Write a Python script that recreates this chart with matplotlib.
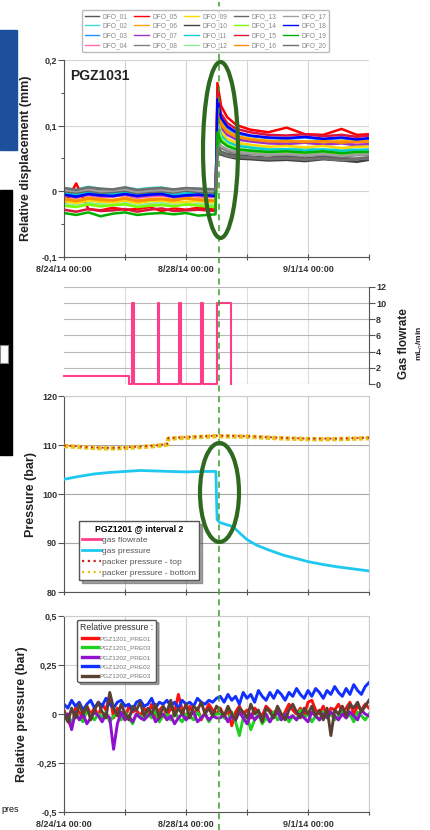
import numpy as np
import matplotlib
matplotlib.use('Agg')
import matplotlib.pyplot as plt
from matplotlib.patches import Ellipse, Rectangle
from matplotlib.lines import Line2D

plt.rcParams['font.family'] = ['Liberation Sans', 'DejaVu Sans']

# ---------------- data ----------------
# time in days since 8/24/14 00:00
XTICKS = [0, 2, 4, 6, 8, 10]
XTICK_LABELS = ['8/24/14 00:00', '', '8/28/14 00:00', '', '9/1/14 00:00', '']

# displacement (units of 0.001 mm)
T_DISP = [0, 0.4, 0.8, 1.2, 1.6, 2.0, 2.4, 2.8, 3.2, 3.6, 4.0, 4.4, 4.97,
          5.03, 5.15, 5.35, 5.65, 6.1, 6.7, 7.3, 7.9, 8.5, 9.1, 9.6, 10.0]
DFO_01 = [3, 0, 4, 2, -1, 3, 1, 2, 5, 1, 3, 2, 1, 70, 60, 57, 55, 53, 51, 54, 50, 53, 51, 49, 52]
DFO_02 = [5, 3, 7, 4, 2, 6, 3, 5, 6, 2, 5, 4, 3, 115, 90, 80, 72, 68, 65, 64, 66, 62, 65, 63, 64]
DFO_03 = [-4, -7, -3, -5, -6, -3, -6, -4, -2, -6, -5, -4, -6, 135, 108, 96, 88, 84, 81, 80, 82, 79, 81, 78, 80]
DFO_04 = [-8, -10, -6, -9, -7, -6, -10, -8, -7, -9, -6, -8, -9, 125, 101, 89, 82, 78, 75, 74, 76, 73, 75, 72, 74]
DFO_05 = [-22, 12, -27, -29, -25, -28, -27, -24, -30, -26, -28, -25, -28, 165, 130, 113, 101, 94, 90, 97, 87, 86, 95, 86, 87]
DFO_06 = [-11, -14, -10, -12, -13, -10, -14, -12, -11, -13, -10, -12, -14, 130, 104, 92, 84, 80, 77, 75, 76, 74, 77, 75, 76]
DFO_07 = [-6, -9, -5, -7, -8, -5, -8, -6, -5, -9, -7, -6, -8, 120, 97, 86, 79, 76, 73, 72, 74, 71, 73, 70, 72]
DFO_08 = [1, -1, 2, -1, 0, 2, -2, 0, 1, -1, 2, 0, -1, 75, 66, 61, 58, 57, 55, 56, 54, 56, 53, 55, 55]
DFO_09 = [-15, -18, -14, -16, -17, -14, -18, -15, -14, -17, -16, -15, -17, 110, 90, 80, 74, 71, 68, 69, 67, 69, 66, 68, 68]
DFO_10 = [4, 1, 5, 3, 2, 5, 1, 3, 4, 2, 4, 3, 2, 62, 56, 53, 50, 49, 47, 48, 46, 49, 47, 45, 48]
DFO_11 = [-2, -5, -1, -3, -4, -1, -4, -2, -1, -5, -3, -2, -4, 105, 85, 75, 69, 66, 63, 64, 62, 64, 61, 63, 63]
DFO_12 = [-19, -22, -18, -20, -21, -18, -22, -19, -18, -21, -20, -19, -21, 100, 81, 72, 66, 63, 60, 61, 59, 61, 58, 60, 60]
DFO_13 = [0, -2, 1, -2, -1, 1, -3, -1, 0, -2, 1, -1, -2, 68, 60, 56, 53, 52, 50, 51, 49, 51, 48, 50, 50]
DFO_14 = [-22, -24, -20, -23, -21, -20, -24, -22, -21, -23, -20, -22, -24, 95, 78, 70, 64, 61, 58, 59, 57, 59, 56, 58, 58]
DFO_15 = [-28, -31, -27, -30, -29, -27, -31, -28, -26, -30, -29, -28, -30, 150, 118, 104, 95, 90, 86, 85, 87, 84, 86, 83, 85]
DFO_16 = [-12, -15, -11, -13, -14, -11, -15, -13, -12, -14, -11, -13, -15, 128, 102, 90, 83, 79, 76, 77, 75, 77, 74, 76, 76]
DFO_17 = [2, 0, 3, 0, 1, 3, -1, 1, 2, 0, 3, 1, 0, 80, 69, 64, 60, 58, 56, 57, 55, 57, 54, 56, 57]
DFO_18 = [-5, -8, -4, -6, -7, -4, -7, -5, -4, -8, -6, -5, -7, 140, 112, 99, 90, 85, 82, 81, 83, 80, 82, 79, 81]
DFO_19 = [-33, -36, -32, -38, -34, -32, -36, -34, -33, -35, -33, -37, -35, 90, 76, 69, 64, 62, 60, 61, 59, 61, 58, 60, 60]
DFO_20 = [5, 2, 6, 4, 3, 6, 2, 4, 5, 3, 5, 4, 3, 65, 58, 54, 52, 51, 49, 50, 48, 50, 47, 49, 50]
DFO_SERIES = [DFO_01, DFO_02, DFO_03, DFO_04, DFO_05, DFO_06, DFO_07, DFO_08, DFO_09, DFO_10,
              DFO_11, DFO_12, DFO_13, DFO_14, DFO_15, DFO_16, DFO_17, DFO_18, DFO_19, DFO_20]
DFO_NAMES = ['DFO_%02d' % i for i in range(1, 21)]
DFO_COLORS = ['#555555', '#40e0d0', '#1e90ff', '#ff69b4', '#ff0000', '#ffa500', '#9932cc',
              '#808080', '#ffd700', '#404040', '#00ced1', '#90ee90', '#666666', '#7cfc00',
              '#dc143c', '#ff8c00', '#a0a0a0', '#0000ff', '#00b000', '#707070']

# gas flowrate (mLn/min), step series
T_FLOW = [0, 2.12, 2.22, 2.28, 3.07, 3.13, 3.78, 3.84, 4.49, 4.55, 5.03, 5.46, 5.47]
FLOW = [1, 0, 10, 0, 10, 0, 10, 0, 10, 0, 10, 0, 0]

# pressures (bar)
T_GP = [0, 0.5, 1.0, 1.5, 2.0, 2.5, 3.0, 3.5, 4.0, 4.5, 4.98, 5.0, 5.02, 5.1, 5.3, 5.46,
        5.6, 5.8, 6.0, 6.3, 6.7, 7.2, 7.7, 8.0, 8.5, 9.0, 9.5, 10.0]
GAS_P = [103.0, 103.6, 104.1, 104.4, 104.6, 104.8, 104.7, 104.6, 104.5, 104.6, 104.6, 99.0,
         94.8, 94.2, 93.8, 93.5, 93.0, 91.8, 90.7, 89.6, 88.6, 87.5, 86.7, 86.2, 85.6, 85.1,
         84.7, 84.3]
T_PACK = [0, 0.5, 1.0, 1.5, 2.0, 2.5, 3.0, 3.38, 3.42, 4.0, 5.0, 6.0, 7.0, 8.0, 9.0, 10.0]
PACK_BOTTOM = [109.8, 109.6, 109.4, 109.3, 109.4, 109.6, 109.8, 110.1, 111.3, 111.5, 111.8,
               111.7, 111.4, 111.2, 111.2, 111.4]
PACK_TOP = [109.9, 109.7, 109.5, 109.4, 109.5, 109.7, 109.9, 110.2, 111.4, 111.6, 111.9,
            111.8, 111.5, 111.3, 111.3, 111.5]

# relative pressure (units of 0.01 bar), every 3 h
T_REL = [i * 0.125 for i in range(81)]
PGZ1201_PRE01 = [2, -3, -7, 3, 1, -2, 4, 0, 3, -1, 5, 2, 10, -2, 3, 0, -3, 4, 1, 2,
                 -1, 3, 0, 5, -2, 2, 4, -1, 3, 1, 10, 2, -2, 4, 0, 3, -3, 1, 5, 2, 0,
                 3, -1, 2, -6, 1, 4, 0, 2, -2, 3, 1, -1, 4, 2, 0, 3, -2, 1, 5, 2,
                 0, 3, -1, 6, 7, 2, 0, 4, -1, 3, 2, 5, 1, 3, 6, 0, 4, 2, 5, 3]
PGZ1201_PRE03 = [-3, 0, -5, 1, -2, -4, 2, -1, -3, 0, -2, 1, -4, -1, 0, -3, 1, -2, -5, 0,
                 -1, -3, 0, -2, 2, -4, -1, 0, -3, 1, -2, -4, 0, -1, -3, 1, -2, 0, -4, -1, 0,
                 0, -2, -3, 1, -4, -11, -2, -1, -8, -3, 0, -5, -2, -4, 1, -3, -2, 0, -4, -1,
                 -3, 2, -2, 0, -4, -1, -3, 1, -2, 0, -3, -1, 2, -2, 0, -4, 1, -1, -3, 0]
PGZ1202_PRE01 = [-2, 0, -8, 1, -3, 0, -5, -2, 1, -1, -4, 0, -2, -18, -5, 1, -3, -1, -4, 0,
                 -2, -3, -1, 1, -4, -2, 0, -3, -1, -5, -2, 0, -3, -1, 1, -4, -2, 0, -3, -1, -2,
                 -2, 0, -4, -1, -3, 1, -2, -5, 0, -3, -1, -2, 0, -4, -1, 1, -3, 0, -2, -1,
                 -3, 0, -2, -4, 1, -1, -3, 0, -2, 1, -1, -3, 0, -2, 1, -1, -3, 2, 0, -1]
PGZ1202_PRE02 = [5, 3, 7, 4, 6, 2, 5, 7, 3, 6, 4, 8, 5, 3, 6, 7, 4, 5, 2, 6,
                 7, 4, 5, 8, 3, 6, 5, 7, 4, 6, 3, 7, 5, 6, 4, 8, 6, 5, 7, 6, 8,
                 9, 6, 10, 7, 9, 5, 11, 8, 10, 6, 12, 9, 7, 11, 8, 12, 10, 7, 11, 9,
                 13, 10, 8, 12, 9, 13, 11, 8, 12, 10, 14, 11, 9, 13, 10, 15, 12, 10, 14, 16]
PGZ1202_PRE03 = [1, -4, 3, -2, 5, 0, 4, -3, 2, 6, 1, -2, 11, 3, -1, 5, 0, -3, 4, 2,
                 6, -1, 3, 0, 5, -2, 4, 1, 7, -1, 3, 0, 5, -2, 4, 2, 6, 0, 3, -1, 4,
                 2, -1, 4, 0, -3, 3, 1, -2, 5, 0, 2, -4, 3, 1, -2, 4, 0, -3, 2, 5,
                 1, -2, 3, 0, 4, -1, 2, -3, 3, -11, 2, 0, 4, -1, 5, 3, 6, 1, 4, 7]
REL_SERIES = [PGZ1201_PRE01, PGZ1201_PRE03, PGZ1202_PRE01, PGZ1202_PRE02, PGZ1202_PRE03]
REL_NAMES = ['PGZ1201_PRE01', 'PGZ1201_PRE03', 'PGZ1202_PRE01', 'PGZ1202_PRE02', 'PGZ1202_PRE03']
REL_COLORS = ['#ff1010', '#20d020', '#9010d0', '#1030ff', '#5a4032']

EVENT_DAY = 5.07

# ---------------- figure ----------------
W, H = 431, 830
fig = plt.figure(figsize=(W / 100, H / 100), dpi=100)


def fx(px):
    return px / W


def fy(py):
    return 1 - py / H


def add_ax(top, bottom, left=64, right=369):
    return fig.add_axes([fx(left), fy(bottom), fx(right) - fx(left), fy(top) - fy(bottom)])


TICK_COLOR = '#333333'
SPINE = '#555555'


def style_ticks(ax):
    for lab in ax.get_xticklabels() + ax.get_yticklabels():
        lab.set_fontweight('bold')
        lab.set_color(TICK_COLOR)


ax1 = add_ax(60, 257)
ax2 = add_ax(287, 384)
ax3 = add_ax(396, 592)
ax4 = add_ax(616, 812)

# ---- panel 1: displacement ----
for vals, name, col in zip(DFO_SERIES, DFO_NAMES, DFO_COLORS):
    ax1.plot(T_DISP, np.array(vals) * 0.001, color=col, lw=1.8, label=name)
ax1.set_xlim(0, 10)
ax1.set_ylim(-0.1, 0.2)
ax1.set_yticks([-0.1, 0, 0.1, 0.2])
ax1.set_yticklabels(['-0,1', '0', '0,1', '0,2'])
ax1.set_yticks([-0.05, 0.05, 0.15], minor=True)
ax1.set_xticks(XTICKS)
ax1.set_xticklabels(XTICK_LABELS)
ax1.grid(True, color='#d4d4d4', lw=0.8)
ax1.set_axisbelow(True)
for s in ['top', 'right']:
    ax1.spines[s].set_visible(False)
for s in ['left', 'bottom']:
    ax1.spines[s].set_color(SPINE)
ax1.tick_params(axis='y', direction='out', length=4, width=0.8, labelsize=6.5, pad=1, colors=SPINE, labelcolor=TICK_COLOR)
ax1.tick_params(axis='y', which='minor', direction='out', length=2.5, width=0.8, colors=SPINE)
ax1.tick_params(axis='x', direction='inout', length=5, width=0.8, labelsize=6.5, pad=3, colors=SPINE, labelcolor=TICK_COLOR)
ax1.set_ylabel('Relative displacement (mm)', fontsize=9, fontweight='bold', color='#222222')
ax1.yaxis.set_label_coords(-0.104, 0.5)
style_ticks(ax1)
ax1.text(0.02, 0.92, 'PGZ1031', transform=ax1.transAxes, fontsize=10, fontweight='bold',
         color='#222222', ha='left', va='center')

leg1 = fig.legend(*ax1.get_legend_handles_labels(), ncol=5, loc='upper center',
                  bbox_to_anchor=(fx(205.5), fy(7)), fontsize=4.8, frameon=True,
                  handlelength=2.2, columnspacing=1.0, labelspacing=0.4, borderpad=0.4,
                  handletextpad=0.5, fancybox=True, shadow=False, edgecolor='#aaaaaa')
for t in leg1.get_texts():
    t.set_color('#888888')
for line in leg1.get_lines():
    line.set_linewidth(1.0)

# ---- panel 2: gas flowrate ----
ax2.plot(T_FLOW, FLOW, drawstyle='steps-post', color='#ff3d8b', lw=1.5, clip_on=False, zorder=3)
ax2.set_xlim(0, 10)
ax2.set_ylim(0, 12)
ax2.yaxis.tick_right()
ax2.set_yticks([0, 2, 4, 6, 8, 10, 12])
ax2.set_xticks([2, 4, 6, 8])
ax2.tick_params(axis='x', length=0, labelbottom=False)
ax2.tick_params(axis='y', direction='out', length=4, width=0.8, labelsize=6.5, pad=1, colors=SPINE, labelcolor=TICK_COLOR)
ax2.grid(True, axis='y', color='#b8b8b8', lw=0.8)
ax2.grid(True, axis='x', color='#dddddd', lw=0.8)
for s in ['top', 'left', 'bottom']:
    ax2.spines[s].set_visible(False)
ax2.spines['right'].set_color(SPINE)
style_ticks(ax2)
ax2.text(1.115, 0.42, 'Gas flowrate', transform=ax2.transAxes, rotation=90, fontsize=8.5,
         fontweight='bold', color='#222222', ha='center', va='center')
ax2.text(1.165, 0.42, 'mL$_n$/min', transform=ax2.transAxes, rotation=90, fontsize=6,
         fontweight='bold', color='#222222', ha='center', va='center')

# ---- panel 3: pressure ----
ax3.plot(T_GP, GAS_P, color='#1ec8f0', lw=2, label='gas pressure', zorder=3)
ax3.plot(T_PACK, PACK_BOTTOM, color='#e6c21a', lw=3.2, ls=(0, (1.0, 0.5)),
         label='packer pressure - bottom', zorder=3)
ax3.plot(T_PACK, PACK_TOP, color='#d02020', lw=1.3, ls=(0, (1.0, 2.0)),
         label='packer pressure - top', zorder=4)
ax3.set_xlim(0, 10)
ax3.set_ylim(80, 120)
ax3.set_yticks([80, 90, 100, 110, 120])
ax3.set_xticks(XTICKS)
ax3.tick_params(axis='x', direction='inout', length=5, width=0.8, labelbottom=False, colors=SPINE)
ax3.tick_params(axis='y', direction='out', length=4, width=0.8, labelsize=6.5, pad=1, colors=SPINE, labelcolor=TICK_COLOR)
ax3.grid(True, axis='y', color='#a8a8a8', lw=0.8)
ax3.grid(True, axis='x', color='#d0d0d0', lw=0.8)
ax3.set_axisbelow(True)
for s in ['left', 'bottom']:
    ax3.spines[s].set_color(SPINE)
for s in ['top', 'right']:
    ax3.spines[s].set_color('#cccccc')
ax3.set_ylabel('Pressure (bar)', fontsize=9, fontweight='bold', color='#222222')
ax3.yaxis.set_label_coords(-0.088, 0.5)
style_ticks(ax3)
leg_handles = [Line2D([], [], color='#ff3d8b', lw=2),
               Line2D([], [], color='#1ec8f0', lw=2),
               Line2D([], [], color='#d02020', lw=1.6, ls=(0, (1.0, 1.6))),
               Line2D([], [], color='#e6c21a', lw=1.6, ls=(0, (1.0, 1.6)))]
leg3 = ax3.legend(leg_handles,
                  ['gas flowrate', 'gas pressure', 'packer pressure - top', 'packer pressure - bottom'],
                  title='PGZ1201 @ interval 2', loc='lower left', bbox_to_anchor=(0.035, 0.04),
                  fontsize=6, title_fontsize=6.2, frameon=True, fancybox=False, shadow=True,
                  edgecolor='#555555', handlelength=2.2, handletextpad=0.2, labelspacing=0.36,
                  borderpad=0.4)
leg3.get_title().set_fontweight('bold')
for t in leg3.get_texts():
    t.set_color('#555555')

# ---- panel 4: relative pressure ----
for vals, name, col in zip(REL_SERIES, REL_NAMES, REL_COLORS):
    ax4.plot(T_REL, np.array(vals) * 0.01, color=col, lw=2.1, label=name)
ax4.set_xlim(0, 10)
ax4.set_ylim(-0.5, 0.5)
ax4.set_yticks([-0.5, -0.25, 0, 0.25, 0.5])
ax4.set_yticklabels(['-0,5', '-0,25', '0', '0,25', '0,5'])
ax4.set_xticks(XTICKS)
ax4.set_xticklabels(XTICK_LABELS)
ax4.tick_params(axis='x', direction='inout', length=5, width=0.8, labelsize=6.5, pad=3, colors=SPINE, labelcolor=TICK_COLOR)
ax4.tick_params(axis='y', direction='out', length=4, width=0.8, labelsize=6.5, pad=1, colors=SPINE, labelcolor=TICK_COLOR)
ax4.grid(True, color='#d0d0d0', lw=0.8)
ax4.set_axisbelow(True)
for s in ['left', 'bottom']:
    ax4.spines[s].set_color(SPINE)
for s in ['top', 'right']:
    ax4.spines[s].set_color('#cccccc')
ax4.set_ylabel('Relative pressure (bar)', fontsize=9, fontweight='bold', color='#222222')
ax4.yaxis.set_label_coords(-0.118, 0.5)
style_ticks(ax4)
leg4 = ax4.legend(title='Relative pressure :', loc='upper left', bbox_to_anchor=(0.033, 0.997),
                  fontsize=4.6, title_fontsize=6.3, frameon=True, fancybox=True, shadow=True,
                  edgecolor='#555555', handlelength=2.4, handletextpad=0.3, labelspacing=0.62,
                  borderpad=0.45)
for line in leg4.get_lines():
    line.set_linewidth(2.4)
for t in leg4.get_texts():
    t.set_color('#777777')
leg4.get_title().set_color('#333333')

# ---- overlays ----
x_evt = ax1.transData.transform((EVENT_DAY, 0))[0]
x_evt_fig = fig.transFigure.inverted().transform((x_evt, 0))[0]
fig.add_artist(Line2D([x_evt_fig, x_evt_fig], [0, 0.997], transform=fig.transFigure,
                      color='#3a9c2c', lw=1.1, ls=(0, (4, 3)), zorder=5))
fig.add_artist(Ellipse((fx(220.5), fy(150)), width=35 / W, height=176 / H,
                       transform=fig.transFigure, fill=False, ec='#2d6a1f', lw=3, zorder=6))
fig.add_artist(Ellipse((fx(219.5), fy(492.5)), width=39 / W, height=99 / H,
                       transform=fig.transFigure, fill=False, ec='#2d6a1f', lw=3, zorder=6))

# slide remnants at left edge
fig.add_artist(Rectangle((0, fy(150)), fx(17), fy(30) - fy(150), transform=fig.transFigure,
                         color='#1c4f9c', zorder=0))
fig.add_artist(Rectangle((0, fy(455)), fx(12), fy(190) - fy(455), transform=fig.transFigure,
                         color='#000000', zorder=0))
fig.add_artist(Rectangle((0, fy(363)), fx(8), fy(345) - fy(363), transform=fig.transFigure,
                         facecolor='white', edgecolor='#888888', lw=0.8, zorder=1))
fig.text(fx(1), fy(809), 'pres', fontsize=6.5, color='#111111', ha='left', va='center')

fig.savefig('out.png', dpi=100)
